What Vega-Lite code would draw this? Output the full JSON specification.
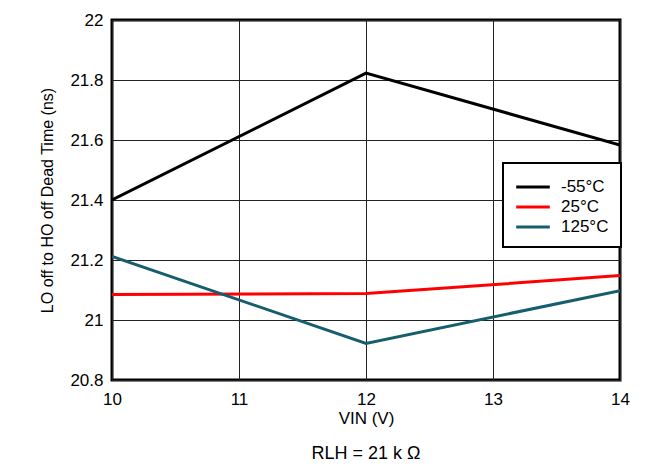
{
  "$schema": "https://vega.github.io/schema/vega-lite/v6.json",
  "autosize": {"type": "none"},
  "width": 508,
  "height": 360,
  "padding": {"left": 112, "top": 20, "right": 46, "bottom": 92},
  "background": "white",
  "title": {"text": "RLH = 21 k Ω", "orient": "bottom", "anchor": "middle", "font": "Liberation Sans", "fontSize": 18, "fontWeight": "normal", "color": "black", "offset": 19},
  "data": {"values": [
    {"vin": 10, "t": 21.4, "temp": "-55°C"},
    {"vin": 12, "t": 21.823, "temp": "-55°C"},
    {"vin": 14, "t": 21.583, "temp": "-55°C"},
    {"vin": 10, "t": 21.085, "temp": "25°C"},
    {"vin": 12, "t": 21.088, "temp": "25°C"},
    {"vin": 14, "t": 21.148, "temp": "25°C"},
    {"vin": 10, "t": 21.212, "temp": "125°C"},
    {"vin": 12, "t": 20.922, "temp": "125°C"},
    {"vin": 14, "t": 21.098, "temp": "125°C"}
  ]},
  "mark": {"type": "line", "strokeWidth": 3, "clip": true},
  "encoding": {
    "x": {"field": "vin", "type": "quantitative", "scale": {"domain": [10, 14], "nice": false, "zero": false},
      "axis": {"title": "VIN (V)", "values": [10, 11, 12, 13, 14], "labelFlush": false, "labelFontSize": 17, "titleFontSize": 17, "labelFont": "Liberation Sans", "titleFont": "Liberation Sans", "labelPadding": 11, "titlePadding": 3, "domain": false, "ticks": false, "gridColor": "#222", "gridWidth": 1, "labelColor": "black", "titleColor": "black", "titleFontWeight": "normal"}},
    "y": {"field": "t", "type": "quantitative", "scale": {"domain": [20.8, 22], "nice": false, "zero": false},
      "axis": {"title": "LO off to HO off Dead Time (ns)", "values": [20.8, 21, 21.2, 21.4, 21.6, 21.8, 22], "labelExpr": "format(datum.value, '~g')", "labelFlush": false, "labelFontSize": 17, "titleFontSize": 16, "labelFont": "Liberation Sans", "titleFont": "Liberation Sans", "labelPadding": 9, "titlePadding": 14, "domain": false, "ticks": false, "gridColor": "#222", "gridWidth": 1, "labelColor": "black", "titleColor": "black", "titleFontWeight": "normal"}},
    "color": {"field": "temp", "type": "nominal",
      "scale": {"domain": ["-55°C", "25°C", "125°C"], "range": ["#000000", "#ff0000", "#165e6e"]},
      "legend": {"title": null, "orient": "none", "legendX": 391, "legendY": 143, "symbolType": "M-1.6,0H1.6", "symbolStrokeWidth": 3, "symbolSize": 441, "labelFontSize": 17, "labelFont": "Liberation Sans", "labelColor": "black", "rowPadding": 0, "padding": 12, "strokeColor": "black", "fillColor": "white", "labelOffset": 16, "symbolOffset": 6,
        "encode": {"legend": {"update": {"strokeWidth": {"value": 2}}}}}}
  },
  "config": {
    "view": {"stroke": "black", "strokeWidth": 3}
  }
}
